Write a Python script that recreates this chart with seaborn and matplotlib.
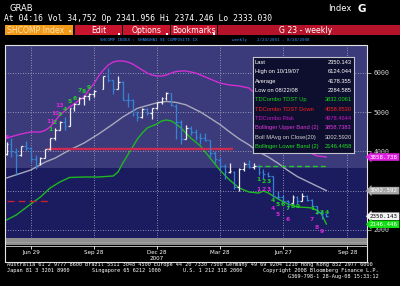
import numpy as np
import pandas as pd
import matplotlib
matplotlib.use("Agg")
import matplotlib.pyplot as plt
import matplotlib.dates as mdates
import matplotlib.transforms as mtransforms
from matplotlib.patches import Rectangle
from matplotlib import font_manager
import seaborn as sns

# ---------------- weekly OHLC bars ----------------
bar_dates = ["2007-05-25", "2007-06-01", "2007-06-08", "2007-06-15", "2007-06-22", "2007-06-29",
             "2007-07-06", "2007-07-13", "2007-07-20", "2007-07-27", "2007-08-03", "2007-08-10",
             "2007-08-17", "2007-08-24", "2007-08-31", "2007-09-07", "2007-09-14", "2007-09-21",
             "2007-09-28", "2007-10-12", "2007-10-19", "2007-10-26", "2007-11-02", "2007-11-09",
             "2007-11-16", "2007-11-23", "2007-11-30", "2007-12-07", "2007-12-14", "2007-12-21",
             "2007-12-28", "2008-01-04", "2008-01-11", "2008-01-18", "2008-01-25", "2008-02-01",
             "2008-02-08", "2008-02-15", "2008-02-22", "2008-02-29", "2008-03-07", "2008-03-14",
             "2008-03-21", "2008-03-28", "2008-04-04", "2008-04-11", "2008-04-18", "2008-04-25",
             "2008-05-02", "2008-05-09", "2008-05-16", "2008-05-23", "2008-05-30", "2008-06-06",
             "2008-06-13", "2008-06-20", "2008-06-27", "2008-07-04", "2008-07-11", "2008-07-18",
             "2008-07-25", "2008-08-01", "2008-08-08", "2008-08-15", "2008-08-22", "2008-08-29"]
bar_open = [3930, 4190, 3990, 3920, 4140, 4085, 3800, 3700, 3845, 4060,
            4350, 4560, 4750, 4660, 5110, 5220, 5360, 5420, 5460, 5600,
            5920, 5810, 5590, 5770, 5300, 5310, 4950, 4870, 5090, 4970,
            5100, 5265, 5365, 5480, 5170, 4760, 4330, 4600, 4490, 4370,
            4350, 4290, 3950, 3780, 3620, 3470, 3480, 3090, 3560, 3690,
            3610, 3620, 3470, 3430, 3375, 2850, 2830, 2740, 2700, 2830,
            2740, 2860, 2770, 2600, 2450, 2400]
bar_high = [4230, 4335, 4080, 4145, 4270, 4120, 3900, 3860, 4070, 4350,
            4600, 4780, 4880, 5110, 5240, 5400, 5430, 5500, 5560, 5914,
            6124, 5830, 5915, 5800, 5500, 5330, 5030, 5110, 5120, 5110,
            5270, 5380, 5522, 5500, 5200, 4800, 4680, 4640, 4580, 4470,
            4480, 4300, 4020, 3860, 3680, 3700, 3500, 3580, 3720, 3786,
            3700, 3650, 3560, 3490, 3380, 2990, 2890, 2770, 2900, 2870,
            2950, 2890, 2800, 2610, 2470, 2430]
bar_low = [3910, 3850, 3404, 3890, 4040, 3740, 3563, 3650, 3830, 4050,
           4300, 4540, 4560, 4650, 5040, 5210, 5180, 5300, 5380, 5600,
           5780, 5460, 5580, 5300, 5130, 4900, 4778, 4860, 4930, 4820,
           5080, 5200, 5300, 5150, 4330, 4200, 4320, 4430, 4290, 4200,
           4260, 3860, 3700, 3510, 3300, 3450, 3050, 2990, 3510, 3570,
           3550, 3400, 3310, 3340, 2840, 2780, 2690, 2566, 2690, 2660,
           2730, 2740, 2590, 2400, 2284, 2333]
bar_close = [4181, 4001, 3913, 4132, 4091, 3820, 3615, 3840, 4058.85, 4345,
             4560, 4749, 4656, 5107, 5218, 5355, 5421, 5454, 5552, 5913,
             5818, 5589, 5777, 5317, 5316, 4958, 4871, 5091, 4980, 5101,
             5262, 5362, 5484, 5180, 4761, 4320, 4599, 4497, 4370, 4348,
             4300, 3962, 3796, 3628, 3472, 3492, 3094, 3557, 3693, 3613,
             3624, 3473, 3433, 3379, 2857, 2831, 2748, 2703, 2835, 2743,
             2862, 2775, 2605, 2450, 2406, 2350.143]

# ---------------- Bollinger upper band ----------------
upper_dates = ["2007-05-25", "2007-06-15", "2007-06-29", "2007-07-13", "2007-07-20", "2007-07-27",
               "2007-08-03", "2007-08-10", "2007-08-17", "2007-08-24", "2007-08-31", "2007-09-07",
               "2007-09-14", "2007-09-21", "2007-09-28", "2007-10-05", "2007-10-12", "2007-10-19",
               "2007-10-26", "2007-11-02", "2007-11-09", "2007-11-16", "2007-11-23", "2007-11-30",
               "2007-12-07", "2007-12-14", "2007-12-21", "2007-12-28", "2008-01-04", "2008-01-11",
               "2008-01-18", "2008-01-25", "2008-02-01", "2008-02-08", "2008-02-15", "2008-02-22",
               "2008-02-29", "2008-03-14", "2008-03-28", "2008-04-11", "2008-04-25", "2008-05-09",
               "2008-05-23", "2008-06-06", "2008-06-20", "2008-07-04", "2008-07-18", "2008-08-01",
               "2008-08-15", "2008-08-29"]
upper_vals = [4344, 4446, 4497, 4497, 4540, 4624, 4777, 4930, 5032, 5134, 5210, 5312,
              5388, 5567, 5720, 5924, 6076, 6204, 6280, 6306, 6306, 6280, 6229, 6153,
              6076, 6000, 5949, 5924, 5924, 5949, 6000, 6038, 6051, 6051, 6025, 6000,
              5949, 5847, 5745, 5694, 5669, 5618, 5400, 5100, 4700, 4400, 4150, 4000,
              3890, 3858.74]

# ---------------- Bollinger moving average (20) ----------------
ma_dates = ["2007-05-25", "2007-06-29", "2007-07-20", "2007-08-03", "2007-08-24", "2007-09-14",
            "2007-10-05", "2007-10-26", "2007-11-09", "2007-11-30", "2007-12-28", "2008-01-11",
            "2008-01-25", "2008-02-08", "2008-02-29", "2008-03-14", "2008-03-28", "2008-04-11",
            "2008-04-25", "2008-05-09", "2008-05-23", "2008-06-06", "2008-06-20", "2008-07-04",
            "2008-07-18", "2008-08-01", "2008-08-15", "2008-08-29"]
ma_vals = [3325, 3528, 3732, 3830, 4038, 4216, 4446, 4701, 4880, 5100, 5240, 5275,
           5250, 5190, 5006, 4850, 4690, 4500, 4320, 4170, 3990, 3860, 3700, 3520,
           3360, 3240, 3120, 3002.59]

# ---------------- Bollinger lower band ----------------
lower_dates = ["2007-05-25", "2007-06-08", "2007-06-29", "2007-07-13", "2007-07-27", "2007-08-10",
               "2007-08-24", "2007-09-14", "2007-10-05", "2007-10-26", "2007-11-02", "2007-11-09",
               "2007-11-16", "2007-11-23", "2007-11-30", "2007-12-07", "2007-12-14", "2007-12-21",
               "2007-12-28", "2008-01-04", "2008-01-11", "2008-01-18", "2008-01-25", "2008-02-01",
               "2008-02-08", "2008-02-15", "2008-02-22", "2008-02-29", "2008-03-07", "2008-03-14",
               "2008-03-21", "2008-03-28", "2008-04-04", "2008-04-11", "2008-04-18", "2008-04-25",
               "2008-05-09", "2008-05-23", "2008-05-30", "2008-06-06", "2008-06-13", "2008-06-20",
               "2008-07-04", "2008-07-18", "2008-08-01", "2008-08-08", "2008-08-15", "2008-08-22",
               "2008-08-29"]
lower_vals = [2254, 2382, 2662, 2840, 3070, 3223, 3338, 3350, 3350, 3376, 3477, 3707,
              3911, 4114, 4318, 4471, 4599, 4650, 4700, 4777, 4802, 4777, 4700, 4599,
              4471, 4344, 4242, 4140, 3987, 3834, 3681, 3528, 3401, 3274, 3172, 3070,
              2968, 2942, 2993, 2942, 2866, 2790, 2662, 2586, 2573, 2560, 2509, 2400,
              2146.45]

# ---------------- TD lines ----------------
tdst_down_value = 4058.85
tdst_down_span = ["2007-07-23", "2008-04-16"]
old_tdst_value = 2744
old_tdst_span = ["2007-05-26", "2007-07-26"]
tdst_up_value = 3643
tdst_up_span = ["2008-05-20", "2008-08-30"]

# ---------------- TD count numbers ----------------
green_td_dates = ["2007-07-27", "2007-08-03", "2007-08-10", "2007-08-17", "2007-08-24", "2007-08-31",
                  "2007-09-07", "2007-09-14", "2007-09-21",
                  "2008-05-23", "2008-05-30", "2008-06-06", "2008-06-13", "2008-06-20", "2008-06-27",
                  "2008-07-04", "2008-07-11", "2008-07-18",
                  "2008-08-08", "2008-08-15", "2008-08-22", "2008-08-29"]
green_td_text = ["1", "2", "3", "4", "5", "6", "7", "8", "9",
                 "1", "2", "3", "4", "5", "6", "7", "8", "9",
                 "1", "2", "3", "4"]
green_td_vals = [4548, 4726, 4930, 5070, 5261, 5350, 5554, 5529, 5630,
                 3274, 3223, 3223, 2751, 2637, 2662, 2547, 2611, 2611,
                 2535, 2458, 2433, 2433]
magenta_td_dates = ["2007-05-25", "2007-07-27", "2007-08-03", "2007-08-10",
                    "2008-05-23", "2008-05-30", "2008-06-06", "2008-06-13", "2008-06-20",
                    "2008-07-04", "2008-08-08", "2008-08-15", "2008-08-22"]
magenta_td_text = ["8", "11", "12", "13", "1", "2", "3", "4", "5", "6", "7", "8", "9"]
magenta_td_vals = [4344, 4764, 4968, 5172, 3019, 3019, 3019, 2547, 2407, 2267, 2270, 2060, 1955]

# ---------------- axis ticks / legend ----------------
tick_dates = ["2007-06-29", "2007-09-28", "2007-12-28", "2008-03-28", "2008-06-27", "2008-09-28"]
tick_labels = ["Jun 29", "Sep 28", "Dec 28", "Mar 28", "Jun 27", "Sep 28"]
year_label = "2007"
y_ticks = [2000, 3000, 4000, 5000, 6000]
y_tick_labels = ["2000", "", "4000", "5000", "6000"]

legend_labels = ["Last", "High on 10/19/07", "Average", "Low on 08/22/08", "TDCombo TDST Up",
                 "TDCombo TDST Down", "TDCombo Risk", "Bollinger Upper Band (2)",
                 "Boll MAvg on Close(20)", "Bollinger Lower Band (2)"]
legend_values = ["2350.143", "6124.044", "4178.355", "2284.585", "3832.0061", "4058.8530",
                 "4978.4644", "3858.7383", "3002.5920", "2146.4458"]
legend_colors = ["#ffffff", "#ffffff", "#ffffff", "#ffffff", "#10d810", "#ff2020",
                 "#c818c8", "#e038e0", "#d4d4d4", "#20e020"]

tag_values = [3858.738, 3002.592, 2350.143, 2146.446]
tag_texts = ["3858.738", "3002.592", "2350.143", "2146.446"]
tag_faces = ["#e020e0", "#a8a8a8", "#f4f4f4", "#10e010"]
tag_textcolors = ["#ffffff", "#ffffff", "#000000", "#ffffff"]

# ---------------- style ----------------
sns.set_style("dark")
plt.rcParams["font.family"] = ["DejaVu Sans"]
avail = {f.name for f in font_manager.fontManager.ttflist}


def pick(*names):
    for n in names:
        if n in avail:
            return n
    return "DejaVu Sans"


MONO = pick("DejaVu Sans Mono", "Liberation Mono")
NARROW = pick("Liberation Sans Narrow", "Liberation Sans", "DejaVu Sans")
LEG_FS = 4.9 if NARROW == "Liberation Sans Narrow" else 4.15

W, H = 400, 286
fig = plt.figure(figsize=(W / 100, H / 100), dpi=100, facecolor="black")


def rect(x0, y0, x1, y1):
    return [x0 / W, 1 - y1 / H, (x1 - x0) / W, (y1 - y0) / H]


def d2n(s):
    return mdates.date2num(pd.to_datetime(s))


# background / header axes in pixel coordinates
bg = fig.add_axes([0, 0, 1, 1], zorder=0)
bg.set_xlim(0, W)
bg.set_ylim(H, 0)
bg.axis("off")

# ---------------- main chart ----------------
ax = fig.add_axes(rect(5, 45, 367, 238), zorder=1)
t = d2n(bar_dates)
ax.set_xlim(t[0] - 2.17, t[0] + 520.5)
ax.set_ylim(1796, 6713)
ax.set_facecolor("#1b1b60")
ax.add_patch(Rectangle((0, 0.363), 1, 0.637, transform=ax.transAxes,
                       facecolor="#3b3b7c", lw=0, zorder=0))
for s in ax.spines.values():
    s.set_visible(False)

tick_nums = d2n(tick_dates)
ax.set_xticks(tick_nums)
ax.set_yticks(y_ticks)
ax.set_yticklabels(y_tick_labels)
ax.set_axisbelow(True)
ax.grid(True, color="#b4b4cc", linestyle=(0, (1, 2)), linewidth=0.6)
ax.tick_params(axis="x", length=0, labelbottom=False)
ax.yaxis.tick_right()
ax.tick_params(axis="y", right=True, left=False, length=3, width=0.6, color="#b0b0b0",
               labelcolor="#d0d0d0", labelsize=4.8, pad=1.5, direction="out")
for lab in ax.get_yticklabels():
    lab.set_family(MONO)

# Bollinger lines (seaborn)
sns.lineplot(x=d2n(upper_dates), y=upper_vals, ax=ax, color="#d22ed2", lw=1.0,
             estimator=None, sort=False, zorder=2)
sns.lineplot(x=d2n(ma_dates), y=ma_vals, ax=ax, color="#a8a8bc", lw=1.0,
             estimator=None, sort=False, zorder=2)
sns.lineplot(x=d2n(lower_dates), y=lower_vals, ax=ax, color="#1fb81f", lw=1.0,
             estimator=None, sort=False, zorder=2)

# TDST lines
ax.hlines(tdst_down_value, *d2n(tdst_down_span), color="#cc2a50", lw=1.7, zorder=2)
ax.hlines(old_tdst_value, *d2n(old_tdst_span), color="#c42030", lw=1.0,
          linestyles=(0, (5, 3)), zorder=2)
ax.hlines(tdst_up_value, *d2n(tdst_up_span), color="#22c822", lw=1.0,
          linestyles=(0, (3.5, 2.2)), zorder=2)

# OHLC bars
closes = np.array(bar_close)
bar_colors = ["#f0f0f0" if i == 0 or closes[i] >= closes[i - 1] else "#3584d4"
              for i in range(len(closes))]
ax.vlines(t, bar_low, bar_high, colors=bar_colors, lw=0.9, zorder=3)
ax.hlines(bar_open, t - 2.6, t, colors=bar_colors, lw=0.9, zorder=3)
ax.hlines(bar_close, t, t + 2.6, colors=bar_colors, lw=0.9, zorder=3)

# TD count numbers
for d, s, v in zip(green_td_dates, green_td_text, green_td_vals):
    ax.text(d2n(d), v, s, color="#22d022", fontsize=4.3, fontweight="bold",
            ha="center", va="center", zorder=4)
for d, s, v in zip(magenta_td_dates, magenta_td_text, magenta_td_vals):
    ax.text(d2n(d), v, s, color="#d828d8", fontsize=4.3, fontweight="bold",
            ha="center", va="center", zorder=4)

# ---------------- legend box ----------------
lg = fig.add_axes(rect(253, 57, 354, 153), zorder=3)
lg.set_facecolor("#0e0e2e")
lg.set_xlim(0, 1)
lg.set_ylim(0, 1)
lg.set_xticks([])
lg.set_yticks([])
for s in lg.spines.values():
    s.set_color("#c4c4d0")
    s.set_linewidth(0.8)
for i, (lab, val, col) in enumerate(zip(legend_labels, legend_values, legend_colors)):
    yp = 62.3 + i * 9.38
    fy = (153 - yp) / 96
    lg.text(0.015, fy, lab, color=col, fontsize=LEG_FS, family=NARROW, va="center", ha="left")
    lg.text(0.977, fy, val, color=col, fontsize=LEG_FS, family=NARROW, va="center", ha="right")

# ---------------- header ----------------
bg.text(10, 8.5, "GRAB", color="white", fontsize=6, va="center", ha="left")
bg.text(4, 18.5, "At 04:16 Vol 34,752 Op 2341.956 Hi 2374.246 Lo 2333.030", color="white",
        fontsize=5.75, family=MONO, va="center", ha="left")
bg.text(328, 8.5, "Index", color="white", fontsize=6, va="center", ha="left")
bg.text(357, 8.5, "G", color="white", fontsize=7.5, fontweight="bold", va="center", ha="left")

bg.add_patch(Rectangle((5, 25), 68, 10, facecolor="#f29a18", lw=0))
bg.text(7, 30.2, "SHCOMP Index", color="#ffe2b0", fontsize=5.6, va="center", ha="left")
bg.text(70, 32, "\u25be", color="white", fontsize=3.5, va="center", ha="center")
menus = [(75, 122, "Edit"), (123, 170, "Options"), (171, 217, "Bookmarks")]
for x0, x1, lab in menus:
    bg.add_patch(Rectangle((x0, 25), x1 - x0, 10, facecolor="#c8142c", lw=0))
    bg.text((x0 + x1) / 2, 30.2, lab, color="white", fontsize=5.6, va="center", ha="center")
    bg.add_patch(Rectangle((x1 - 4, 33), 2, 1.6, facecolor="white", lw=0))
bg.add_patch(Rectangle((218, 25), 182, 10, facecolor="#b5132a", lw=0))
bg.text(306, 30.2, "G 23 - weekly", color="white", fontsize=5.6, va="center", ha="center")

bg.text(100, 39.8, "SHCOMP INDEX : SHANGHAI SE COMPOSITE IX", color="#2f8fff",
        fontsize=3.1, family=MONO, va="center", ha="left")
bg.text(232, 39.8, "weekly    2/23/2001 - 8/28/2008", color="#2f8fff",
        fontsize=3.1, family=MONO, va="center", ha="left")

# ---------------- strip under the chart ----------------
bg.add_patch(Rectangle((5, 238.3), 362, 6.7, facecolor="#8e8e8e", lw=0))
bg.plot([5, 367], [242.0, 242.0], color="#a8a8a8", lw=0.5)
bg.plot([5, 367], [245.6, 245.6], color="#d8d8d8", lw=0.6)
xfm = mtransforms.blended_transform_factory(ax.transData, bg.transData)
bg.vlines(tick_nums, 246, 248.5, transform=xfm, colors="white", lw=0.6)
for tn, lab in zip(tick_nums, tick_labels):
    bg.text(tn, 252.2, lab, transform=xfm, color="white", fontsize=4.1,
            ha="center", va="center")
bg.text(tick_nums[2], 258.3, year_label, transform=xfm, color="white", fontsize=4.1,
        ha="center", va="center")

# ---------------- footer ----------------
fs = 3.8
bg.text(7, 264.5, "Australia 61 2 9777 8600 Brazil 5511 3048 4500 Europe 44 20 7330 7500 "
        "Germany 49 69 9204 1210 Hong Kong 852 2977 6000", color="white", fontsize=fs,
        family=MONO, va="center", ha="left")
bg.text(7, 270.3, "Japan 81 3 3201 8900", color="white", fontsize=fs, family=MONO,
        va="center", ha="left")
bg.text(92, 270.3, "Singapore 65 6212 1000", color="white", fontsize=fs, family=MONO,
        va="center", ha="left")
bg.text(183, 270.3, "U.S. 1 212 318 2000", color="white", fontsize=fs, family=MONO,
        va="center", ha="left")
bg.text(379, 270.3, "Copyright 2008 Bloomberg Finance L.P.", color="white", fontsize=fs,
        family=MONO, va="center", ha="right")
bg.text(379, 276.2, "G369-798-1 28-Aug-08 15:33:12", color="white", fontsize=fs,
        family=MONO, va="center", ha="right")

# ---------------- overlay: frame and value tags ----------------
top = fig.add_axes([0, 0, 1, 1], zorder=5)
top.set_xlim(0, W)
top.set_ylim(H, 0)
top.axis("off")
top.patch.set_alpha(0)
fc = "#e4e4e4"
top.plot([5, 367], [44.5, 44.5], color=fc, lw=0.8)
top.plot([5.3, 5.3], [44.5, 262], color=fc, lw=0.8)
top.plot([367, 367], [44.5, 262], color=fc, lw=0.8)
top.plot([5, 367], [261.8, 261.8], color=fc, lw=0.8)

tagx = mtransforms.blended_transform_factory(top.transData, ax.transData)
for v, s, f, tc in zip(tag_values, tag_texts, tag_faces, tag_textcolors):
    top.text(370, v, s, transform=tagx, color=tc, fontsize=4.2, family=MONO,
             va="center", ha="left",
             bbox=dict(boxstyle="larrow,pad=0.22", fc=f, ec="none"))

fig.savefig("out.png", dpi=100, facecolor="black")
